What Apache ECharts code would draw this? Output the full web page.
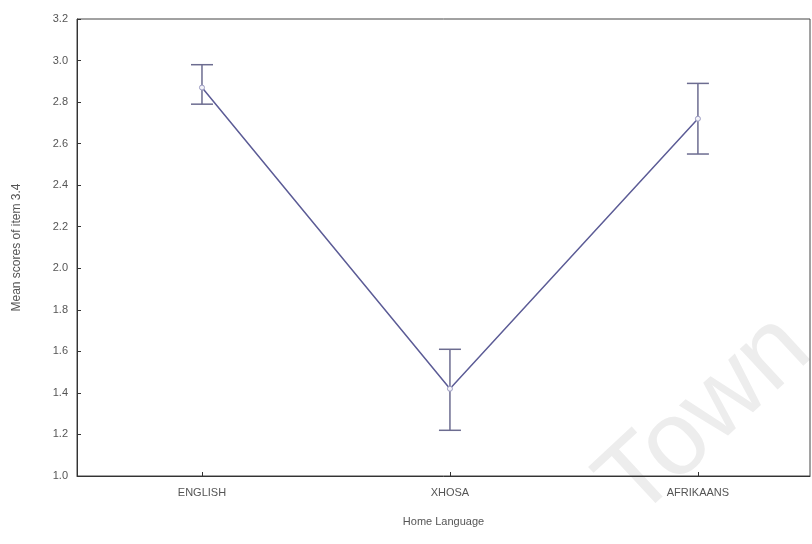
<!DOCTYPE html>
<html><head><meta charset="utf-8">
<script src="https://cdn.jsdelivr.net/npm/echarts@6/dist/echarts.min.js"></script>
<style>html,body{margin:0;padding:0;background:#fff}#c{width:812px;height:544px}</style>
</head><body><div id="c"></div>
<script>
var categories = ['ENGLISH', 'XHOSA', 'AFRIKAANS'];
var means = [2.87, 1.42, 2.72];
var lowers = [2.79, 1.22, 2.55];
var uppers = [2.98, 1.61, 2.89];
var yTicks = [1.0, 1.2, 1.4, 1.6, 1.8, 2.0, 2.2, 2.4, 2.6, 2.8, 3.0, 3.2];

var chart = echarts.init(document.getElementById('c'), null, {renderer: 'canvas'});
var lineData = means.map(function (m, i) { return [i, m]; });
var barData = means.map(function (m, i) { return [i, lowers[i], uppers[i]]; });
var catIdx = categories.map(function (c, i) { return i; });
var txt = {color: '#555', fontFamily: 'Liberation Sans, Arial, sans-serif', fontSize: 11};

chart.setOption({
  animation: false,
  backgroundColor: '#fff',
  graphic: [{
    type: 'text', left: 580, top: 295, rotation: Math.PI / 4.2, z: -10,
    style: {text: 'Town', fontSize: 105, fill: '#ededed', fontFamily: 'Liberation Sans, Arial, sans-serif'}
  }],
  grid: {left: 77, top: 19, right: 2, bottom: 68, show: true, borderColor: '#444', borderWidth: 1, backgroundColor: 'transparent'},
  xAxis: {
    type: 'value', min: -0.504, max: 2.452,
    name: 'Home Language', nameLocation: 'middle', nameGap: 40,
    nameTextStyle: txt,
    axisLine: {show: true, onZero: false, lineStyle: {color: '#333', width: 1}},
    axisTick: {show: true, inside: true, length: 4, customValues: catIdx, lineStyle: {color: '#333'}},
    axisLabel: {show: true, customValues: catIdx, margin: 11, color: '#555', fontSize: 11,
      fontFamily: 'Liberation Sans, Arial, sans-serif',
      formatter: function (v) { return categories[Math.round(v)] || ''; }},
    splitLine: {show: false}
  },
  yAxis: {
    type: 'value', min: 1.0, max: 3.2, interval: 0.2,
    name: 'Mean scores of item 3.4', nameLocation: 'middle', nameGap: 54,
    nameTextStyle: {color: '#555', fontFamily: 'Liberation Sans, Arial, sans-serif', fontSize: 12},
    axisLine: {show: true, onZero: false, lineStyle: {color: '#333', width: 1}},
    axisTick: {show: true, inside: true, length: 4, lineStyle: {color: '#333'}},
    axisLabel: {margin: 9, color: '#555', fontSize: 11, fontFamily: 'Liberation Sans, Arial, sans-serif',
      formatter: function (v) { return v.toFixed(1); }},
    splitLine: {show: false}
  },
  series: [{
    type: 'line', data: lineData, z: 3,
    lineStyle: {color: '#5c5c96', width: 1.5},
    symbol: 'circle', symbolSize: 5,
    itemStyle: {color: '#f4f4fa', borderColor: '#9a9ac0', borderWidth: 1}
  }, {
    type: 'custom', data: barData, z: 2,
    renderItem: function (params, api) {
      var x = api.value(0);
      var lo = api.coord([x, api.value(1)]);
      var hi = api.coord([x, api.value(2)]);
      var hw = 11;
      var st = {stroke: '#6c6c90', lineWidth: 1.5};
      return {type: 'group', children: [
        {type: 'line', shape: {x1: lo[0], y1: lo[1], x2: hi[0], y2: hi[1]}, style: st},
        {type: 'line', shape: {x1: lo[0] - hw, y1: lo[1], x2: lo[0] + hw, y2: lo[1]}, style: st},
        {type: 'line', shape: {x1: hi[0] - hw, y1: hi[1], x2: hi[0] + hw, y2: hi[1]}, style: st}
      ]};
    }
  }]
});
</script>
</body></html>
